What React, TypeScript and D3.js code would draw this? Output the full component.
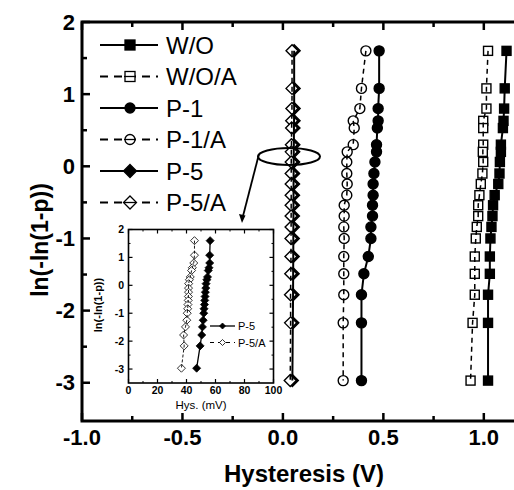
import React from 'react';
import * as d3 from 'd3';

// ---------- data ----------
const yLevels = [1.6, 1.08, 0.8, 0.63, 0.53, 0.3, 0.2, 0.06, -0.1, -0.245, -0.4, -0.54, -0.69, -0.84, -1.0, -1.25, -1.49, -1.78, -2.17, -2.97];

const woX = [1.113, 1.104, 1.101, 1.098, 1.095, 1.085, 1.085, 1.08, 1.078, 1.072, 1.054, 1.046, 1.043, 1.038, 1.033, 1.03, 1.03, 1.021, 1.021, 1.021];
const woaX = [1.021, 1.013, 1.013, 0.997, 0.997, 0.997, 0.995, 0.997, 0.993, 0.985, 0.978, 0.972, 0.972, 0.965, 0.96, 0.955, 0.955, 0.955, 0.944, 0.934];
const p1X = [0.479, 0.479, 0.474, 0.474, 0.47, 0.466, 0.466, 0.458, 0.453, 0.449, 0.449, 0.446, 0.446, 0.438, 0.438, 0.425, 0.403, 0.391, 0.391, 0.391];
const p1aX = [0.413, 0.391, 0.383, 0.35, 0.355, 0.35, 0.32, 0.318, 0.318, 0.32, 0.318, 0.305, 0.305, 0.303, 0.305, 0.303, 0.303, 0.303, 0.3, 0.3];
const p5X = [0.056, 0.056, 0.056, 0.0555, 0.055, 0.0545, 0.054, 0.0535, 0.0533, 0.053, 0.0528, 0.0526, 0.0524, 0.0521, 0.0519, 0.0515, 0.051, 0.0505, 0.0494, 0.047];
const p5aX = [0.0455, 0.0455, 0.045, 0.044, 0.0435, 0.0426, 0.042, 0.0415, 0.0414, 0.0414, 0.0413, 0.0412, 0.041, 0.0408, 0.0405, 0.0402, 0.0393, 0.038, 0.0384, 0.0365];

// inset (mV)
const insetP5 = [56.3, 56, 56, 55.5, 55, 54.5, 54, 53.5, 53.3, 53, 52.8, 52.6, 52.4, 52.1, 51.9, 51.5, 51.0, 50.5, 49.4, 47];
const insetP5A = [45.5, 45.5, 45, 44, 43.5, 42.6, 42, 41.5, 41.4, 41.4, 41.3, 41.2, 41, 40.8, 40.5, 40.2, 39.3, 38, 38.4, 36.5];

const legendNames = ['W/O', 'W/O/A', 'P-1', 'P-1/A', 'P-5', 'P-5/A'];
const xTicksMajor = [-1.0, -0.5, 0.0, 0.5, 1.0];
const xTicksMinor = [-0.75, -0.25, 0.25, 0.75];
const yTicksMajor = [2, 1, 0, -1, -2, -3];
const yTicksMinor = [1.5, 0.5, -0.5, -1.5, -2.5];
const insetXTicks = [0, 20, 40, 60, 80, 100];
const insetXMinor = [10, 30, 50, 70, 90];
const insetYTicks = [2, 1, 0, -1, -2, -3];
const insetYMinor = [1.5, 0.5, -0.5, -1.5, -2.5];

type Shape = 'square' | 'circle' | 'diamond';
interface Series { name: string; xs: number[]; shape: Shape; filled: boolean; dashed: boolean; }

const series: Series[] = [
  { name: 'W/O', xs: woX, shape: 'square', filled: true, dashed: false },
  { name: 'W/O/A', xs: woaX, shape: 'square', filled: false, dashed: true },
  { name: 'P-1', xs: p1X, shape: 'circle', filled: true, dashed: false },
  { name: 'P-1/A', xs: p1aX, shape: 'circle', filled: false, dashed: true },
  { name: 'P-5', xs: p5X, shape: 'diamond', filled: true, dashed: false },
  { name: 'P-5/A', xs: p5aX, shape: 'diamond', filled: false, dashed: true },
];

const FONT = '"Liberation Sans", Arial, Helvetica, sans-serif';

function Marker({ shape, filled, x, y, s, sw = 1.3 }: { shape: Shape; filled: boolean; x: number; y: number; s: number; sw?: number }) {
  const fill = filled ? '#000' : '#fff';
  if (shape === 'square') {
    return <rect x={x - s / 2} y={y - s / 2} width={s} height={s} fill={fill} stroke="#000" strokeWidth={sw} />;
  }
  if (shape === 'circle') {
    return <circle cx={x} cy={y} r={s / 2} fill={fill} stroke="#000" strokeWidth={sw} />;
  }
  const h = s / 2;
  return <path d={`M${x},${y - h}L${x + h},${y}L${x},${y + h}L${x - h},${y}Z`} fill={fill} stroke="#000" strokeWidth={sw} />;
}

const sizeOf: Record<Shape, number> = { square: 9, circle: 10, diamond: 12 };

export default function App() {
  const W = 514, H = 490;
  const x = d3.scaleLinear().domain([-1, 1.2]).range([82, 524]);
  const y = d3.scaleLinear().domain([-3.53, 2]).range([421, 22]);

  const ix = d3.scaleLinear().domain([0, 100]).range([128.5, 273.5]);
  const iy = d3.scaleLinear().domain([-3.5, 2]).range([383, 229.5]);

  const line = d3.line<[number, number]>().x(d => x(d[0])).y(d => y(d[1]));
  const iline = d3.line<[number, number]>().x(d => ix(d[0])).y(d => iy(d[1]));

  const filledFirst = [...series].sort((a, b) => (a.filled === b.filled ? 0 : a.filled ? -1 : 1));

  const legendY = (i: number) => 45 + i * 31.5;

  return (
    <svg width={W} height={H} style={{ position: 'absolute', left: 0, top: 0, overflow: 'hidden', background: '#fff' }} fontFamily={FONT}>
      <rect x={0} y={0} width={W} height={H} fill="#fff" />
      {/* markers */}
      {filledFirst.map(s => (
        <g key={'m' + s.name}>
          {s.xs.map((v, i) => (
            <Marker key={i} shape={s.shape} filled={s.filled} x={x(v)} y={y(yLevels[i])} s={sizeOf[s.shape]} sw={1.4} />
          ))}
        </g>
      ))}
      {/* lines on top */}
      {series.map(s => (
        <path key={'l' + s.name} d={line(s.xs.map((v, i) => [v, yLevels[i]] as [number, number])) || ''}
          fill="none" stroke="#000" strokeWidth={s.dashed ? 1.5 : 2} strokeDasharray={s.dashed ? '5,4' : undefined} />
      ))}

      {/* main frame */}
      <rect x={82} y={22} width={442} height={399} fill="none" stroke="#000" strokeWidth={3} />
      {xTicksMajor.map(t => (
        <g key={'xt' + t}>
          <line x1={x(t)} x2={x(t)} y1={421} y2={413} stroke="#000" strokeWidth={2.5} />
          <line x1={x(t)} x2={x(t)} y1={22} y2={30} stroke="#000" strokeWidth={2.5} />
          <text x={x(t)} y={445} textAnchor="middle" fontSize={22} fontWeight="bold">{t.toFixed(1)}</text>
        </g>
      ))}
      {xTicksMinor.map(t => (
        <g key={'xm' + t}>
          <line x1={x(t)} x2={x(t)} y1={421} y2={416} stroke="#000" strokeWidth={2.5} />
          <line x1={x(t)} x2={x(t)} y1={22} y2={27} stroke="#000" strokeWidth={2.5} />
        </g>
      ))}
      {yTicksMajor.map(t => (
        <g key={'yt' + t}>
          <line x1={82} x2={90} y1={y(t)} y2={y(t)} stroke="#000" strokeWidth={2.5} />
          <text x={75} y={y(t) + 7.5} textAnchor="end" fontSize={22} fontWeight="bold">{t}</text>
        </g>
      ))}
      {yTicksMinor.map(t => (
        <line key={'ym' + t} x1={82} x2={87} y1={y(t)} y2={y(t)} stroke="#000" strokeWidth={2.5} />
      ))}
      <text x={304} y={482} textAnchor="middle" fontSize={24} fontWeight="bold">Hysteresis (V)</text>
      <text transform="translate(48,240) rotate(-90)" textAnchor="middle" fontSize={23} fontWeight="bold">ln(-ln(1-p))</text>

      {/* legend */}
      {series.map((s, i) => {
        const ly = legendY(i);
        return (
          <g key={'lg' + s.name}>
            <line x1={100} x2={158} y1={ly} y2={ly} stroke="#000" strokeWidth={s.dashed ? 1.8 : 2.2} strokeDasharray={s.dashed ? '8,6' : undefined} />
            <Marker shape={s.shape} filled={s.filled} x={130} y={ly} s={s.shape === 'diamond' ? 13 : 10} sw={1.3} />
            {!s.filled && <line x1={124} x2={136} y1={ly} y2={ly} stroke="#000" strokeWidth={1.3} />}
            <text x={166} y={ly + 8.5} fontSize={24}>{legendNames[i]}</text>
          </g>
        );
      })}

      {/* ellipse & arrow */}
      <ellipse cx={289} cy={156.5} rx={31} ry={8.5} fill="none" stroke="#000" strokeWidth={2} />
      <line x1={259} y1={154} x2={242.5} y2={218} stroke="#000" strokeWidth={1.8} />
      <path d="M242,223 L239,214 L245.5,215.5 Z" fill="#000" />

      {/* inset */}
      <rect x={128.5} y={229.5} width={145} height={153.5} fill="#fff" stroke="#000" strokeWidth={1.6} />
      <path d={iline(insetP5.map((v, i) => [v, yLevels[i]] as [number, number])) || ''} fill="none" stroke="#000" strokeWidth={1.3} />
      {insetP5.map((v, i) => (
        <Marker key={'ip' + i} shape="diamond" filled={true} x={ix(v)} y={iy(yLevels[i])} s={8} sw={0.8} />
      ))}
      {insetP5A.map((v, i) => (
        <Marker key={'ipa' + i} shape="diamond" filled={false} x={ix(v)} y={iy(yLevels[i])} s={8} sw={0.8} />
      ))}
      <path d={iline(insetP5A.map((v, i) => [v, yLevels[i]] as [number, number])) || ''} fill="none" stroke="#000" strokeWidth={0.9} strokeDasharray="3,2" />
      {insetXTicks.map(t => (
        <g key={'ixt' + t}>
          <line x1={ix(t)} x2={ix(t)} y1={383} y2={379} stroke="#000" strokeWidth={1.2} />
          <line x1={ix(t)} x2={ix(t)} y1={229.5} y2={233.5} stroke="#000" strokeWidth={1.2} />
          <text x={ix(t)} y={394} textAnchor="middle" fontSize={10.5} fontWeight="bold">{t}</text>
        </g>
      ))}
      {insetXMinor.map(t => (
        <g key={'ixm' + t}>
          <line x1={ix(t)} x2={ix(t)} y1={383} y2={381} stroke="#000" strokeWidth={1} />
          <line x1={ix(t)} x2={ix(t)} y1={229.5} y2={231.5} stroke="#000" strokeWidth={1} />
        </g>
      ))}
      {insetYTicks.map(t => (
        <g key={'iyt' + t}>
          <line x1={128.5} x2={132.5} y1={iy(t)} y2={iy(t)} stroke="#000" strokeWidth={1.2} />
          <line x1={273.5} x2={269.5} y1={iy(t)} y2={iy(t)} stroke="#000" strokeWidth={1.2} />
          <text x={124} y={iy(t) + 3.7} textAnchor="end" fontSize={10.5} fontWeight="bold">{t}</text>
        </g>
      ))}
      {insetYMinor.map(t => (
        <g key={'iym' + t}>
          <line x1={128.5} x2={130.5} y1={iy(t)} y2={iy(t)} stroke="#000" strokeWidth={1} />
          <line x1={273.5} x2={271.5} y1={iy(t)} y2={iy(t)} stroke="#000" strokeWidth={1} />
        </g>
      ))}
      <text x={201} y={409} textAnchor="middle" fontSize={11.5}>Hys. (mV)</text>
      <text transform="translate(102,305) rotate(-90)" textAnchor="middle" fontSize={11} fontWeight="bold">ln(-ln(1-p))</text>
      {/* inset legend */}
      <line x1={210} x2={235} y1={326} y2={326} stroke="#000" strokeWidth={1.3} />
      <Marker shape="diamond" filled={true} x={222.5} y={326} s={6} sw={0.8} />
      <text x={238} y={330} fontSize={11}>P-5</text>
      <line x1={210} x2={235} y1={342.5} y2={342.5} stroke="#000" strokeWidth={1} strokeDasharray="4,4" />
      <Marker shape="diamond" filled={false} x={222.5} y={342.5} s={6} sw={0.8} />
      <text x={238} y={346.5} fontSize={11}>P-5/A</text>
    </svg>
  );
}
